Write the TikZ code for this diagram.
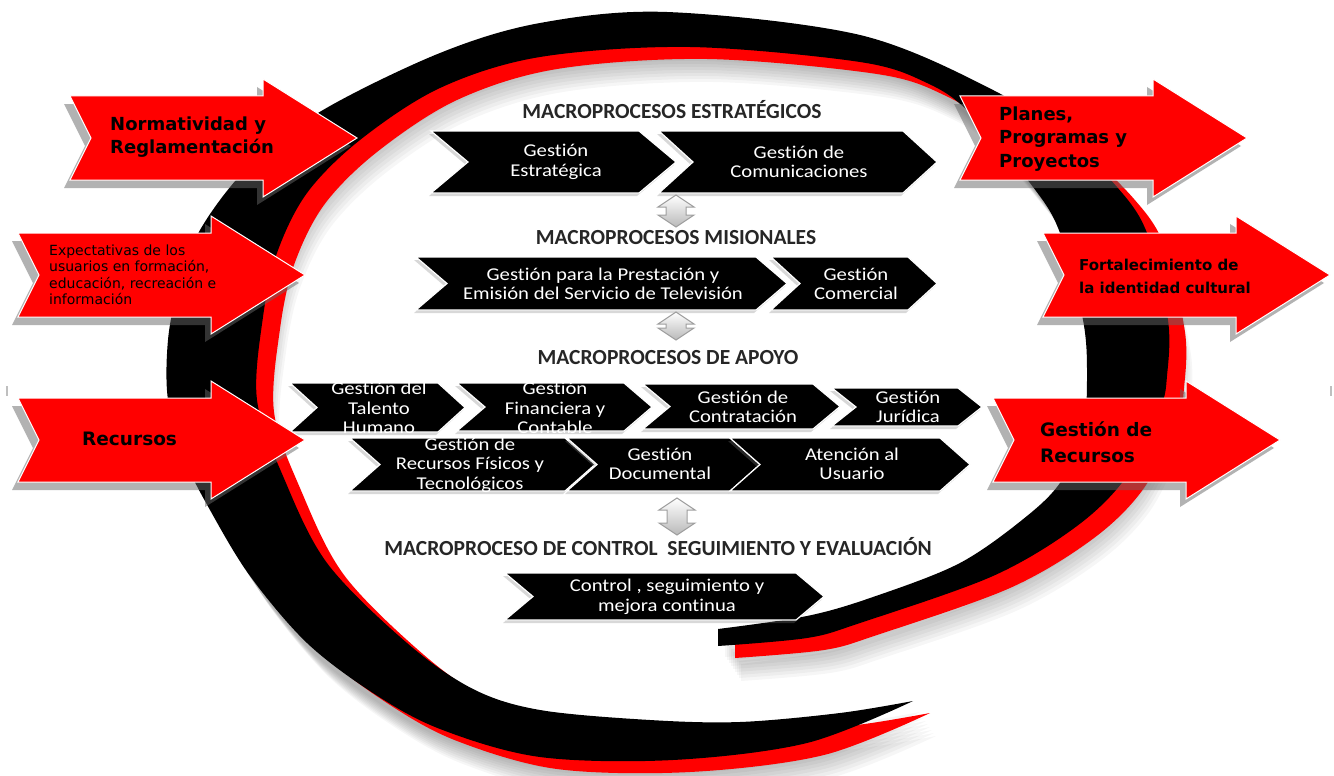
\documentclass[tikz,border=0pt]{standalone}
\usepackage{fontspec}
\setmainfont{Carlito}[Ligatures=NoCommon]
\newfontfamily\arrowfont{DejaVu Sans}
\newfontfamily\chevfont[FakeStretch=1.15, Ligatures=NoCommon]{Carlito}
\usetikzlibrary{shadows}

\definecolor{arrowred}{RGB}{255,0,0}

\newcommand{\swirl}{plot[smooth, tension=.55] coordinates {(718,629) (807,616) (873,597) (960,563) (1027,516) (1062,480) (1083,430) (1087,376) (1083,320) (1060,233) (1033,187) (970,113) (927,83) (860,62) (690,47) (540,57) (440,88) (360,140) (307,193) (277,253) (263,317) (257,400) (283,476) (327,563) (407,643) (473,689) (540,710) (650,720) (740,722) (840,713) (913,701)}
	-- plot[smooth, tension=.55] coordinates {(913,701) (807,743) (673,760) (540,757) (440,729) (373,693) (307,643) (250,576) (210,510) (185,460) (168,400) (168,340) (178,290) (200,230) (250,165) (323,110) (440,53) (540,23) (667,12) (860,35) (993,90) (1065,138) (1117,187) (1147,233) (1168,320) (1167,376) (1160,409) (1127,476) (1077,526) (993,576) (860,623) (807,638) (718,646)}
	-- cycle}

\tikzset{
	chevron/.style={fill=black, draw=white, line width=1.2pt, drop shadow={shadow xshift=-2pt, shadow yshift=-3pt, opacity=.3}},
	chevtext/.style={text=white, font=\chevfont\fontsize{18}{19.5}\selectfont, align=center, inner sep=0pt},
	title/.style={font=\bfseries\fontsize{21.5}{24}\selectfont, text=black!85, inner sep=0pt},
	redarrow/.style={fill=arrowred, draw=white, line width=1pt, drop shadow={shadow xshift=-6pt, shadow yshift=-8pt, fill=black!60, opacity=.5}},
	arrowtext/.style={font=\arrowfont\bfseries\fontsize{18}{23}\selectfont, align=left, anchor=west, inner sep=0pt},
	updown/.style={draw=gray!75, line width=1pt, top color=white, bottom color=gray!55}
}

\begin{document}
\begin{tikzpicture}[x=1pt, y=-1pt]
	\useasboundingbox[fill=white] (0,0) rectangle (1334,776);

	\foreach \k in {1, ..., 9}
		\fill[black, opacity=.035, shift={(5+2*\k, 8+3*\k)}] \swirl;
	\fill[arrowred, shift={(17,12)}] \swirl;
	\fill[black] \swirl;

	\foreach \l/\r/\t/\b/\d in {431/676/131/193/37, 659/937/131/193/34, 416/787/257/310/31, 771/937/257/310/29, 290/465/383/432/27, 457/652/383/431/28, 643/840/384/429/27, 832/982/388/426/24, 350/595/438/491/30, 567/760/438/491/30, 730/970/438/491/30, 505/824/573/620/28}
		\filldraw[chevron] (\l,\t) -- (\r-\d,\t) -- (\r,{(\t+\b)/2}) -- (\r-\d,\b) -- (\l,\b) -- (\l+\d,{(\t+\b)/2}) -- cycle;

	\foreach \x/\t/\b in {676/195/227, 676/312/340, 677/498/535}
		\path[updown] (\x,\t) -- (\x+18,\t+12) -- (\x+10,\t+12) -- (\x+10,\b-12) -- (\x+18,\b-12) -- (\x,\b) -- (\x-18,\b-12) -- (\x-10,\b-12) -- (\x-10,\t+12) -- (\x-18,\t+12) -- cycle;

	\node[title] (estr) at (672,110) {MACROPROCESOS ESTRATÉGICOS};
	\node[title] (misi) at (676,238) {MACROPROCESOS MISIONALES};
	\node[title] (apoy) at (668,358) {MACROPROCESOS DE APOYO};
	\node[title] (ctrl) at (658,547) {MACROPROCESO DE CONTROL \ SEGUIMIENTO Y EVALUACIÓN};

	\node[chevtext] (gestr) at (556,162) {Gestión\\Estratégica};
	\node[chevtext] (gcomu) at (799,162) {Gestión de\\Comunicaciones};
	\node[chevtext] (gtele) at (603,284) {Gestión para la Prestación y\\Emisión del Servicio de Televisión};
	\node[chevtext] (gcome) at (856,284) {Gestión\\Comercial};
	\node[chevtext] (gtale) at (379,408) {Gestión del\\Talento\\Humano};
	\node[chevtext] (gfina) at (555,408) {Gestión\\Financiera y\\Contable};
	\node[chevtext] (gcont) at (743,407) {Gestión de\\Contratación};
	\node[chevtext] (gjuri) at (908,407) {Gestión\\Jurídica};
	\node[chevtext] (grecu) at (470,465) {Gestión de\\Recursos Físicos y\\Tecnológicos};
	\node[chevtext] (gdocu) at (660,464) {Gestión\\Documental};
	\node[chevtext] (gusua) at (852,464) {Atención al\\Usuario};
	\node[chevtext] (gmejo) at (667,597) {Control , seguimiento y\\mejora continua};

	\foreach \x/\y in {70/138, 18/275, 18/440, 960/138, 1043/275, 993/440}
		\filldraw[redarrow] (\x,\y-42) -- (\x+193,\y-42) -- (\x+193,\y-59) -- (\x+287,\y) -- (\x+193,\y+59) -- (\x+193,\y+42) -- (\x,\y+42) -- (\x+21,\y) -- cycle;

	\node[arrowtext] (norma) at (110,137) {Normatividad y\\Reglamentación};
	\node[arrowtext, font=\arrowfont\fontsize{14}{16.5}\selectfont] (expec) at (49,275) {Expectativas de los\\usuarios en formación,\\educación, recreación e\\información};
	\node[arrowtext, font=\arrowfont\bfseries\fontsize{18.5}{23}\selectfont] (recur) at (82,439) {Recursos};
	\node[arrowtext, font=\arrowfont\bfseries\fontsize{18}{23.5}\selectfont] (plane) at (999,139) {Planes,\\Programas y\\Proyectos};
	\node[arrowtext, font=\arrowfont\bfseries\fontsize{15}{23}\selectfont] (ident) at (1079,276) {Fortalecimiento de\\la identidad cultural};
	\node[arrowtext, font=\arrowfont\bfseries\fontsize{18.5}{26}\selectfont] (grecs) at (1040,442) {Gestión de\\Recursos};

	\draw[gray!50, line width=1.5pt] (7,386) -- (7,396);
	\draw[gray!50, line width=1.5pt] (1331,386) -- (1331,396);
\end{tikzpicture}
\end{document}
